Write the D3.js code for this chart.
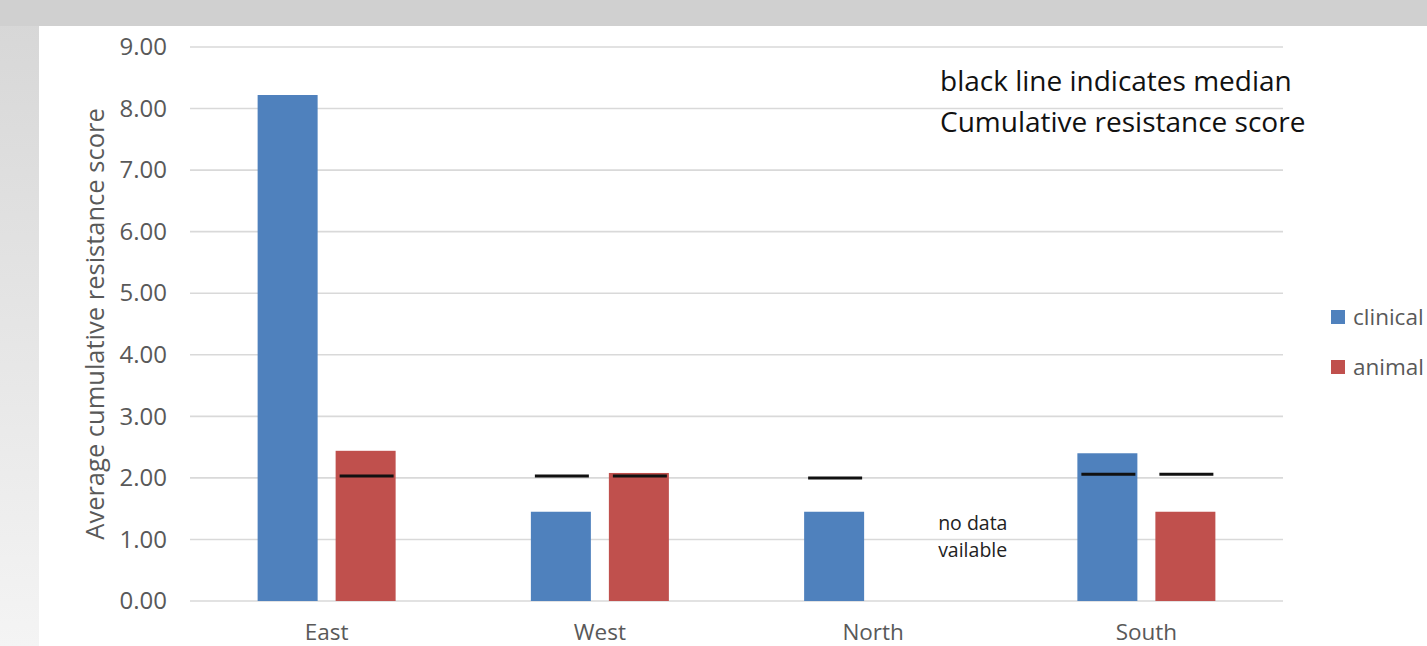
<!DOCTYPE html>
<html>
<head>
<meta charset="utf-8">
<script src="https://cdn.jsdelivr.net/npm/d3@7"></script>
<style>
  html, body { margin: 0; padding: 0; background: #fff; }
  svg { display: block; }
</style>
</head>
<body>
<svg id="chart" width="1427" height="646"></svg>
<script>
// Regions and series
const regions = ["East", "West", "North", "South"];
const seriesNames = ["clinical", "animal"];
const clinical = [8.22, 1.45, 1.45, 2.40];
const animal = [2.44, 2.08, null, 1.45];
// Median cumulative resistance score per region (null = not shown)
const clinicalMedian = [null, 2.03, 2.00, 2.06];
const animalMedian = [2.03, 2.03, null, 2.06];
const yTicks = [0, 1, 2, 3, 4, 5, 6, 7, 8, 9];
const colors = { clinical: "#4f81bd", animal: "#c0504d" };

const svg = d3.select("#chart");
const W = 1427, H = 646;
const font = "'Open Sans', 'Noto Sans', sans-serif";

// Slide-style backdrop: grey top band, shaded left strip, white panel
const defs = svg.append("defs");
const grad = defs.append("linearGradient").attr("id", "side")
  .attr("x1", 0).attr("y1", 0).attr("x2", 0).attr("y2", 1);
grad.append("stop").attr("offset", "0%").attr("stop-color", "#d6d6d6");
grad.append("stop").attr("offset", "100%").attr("stop-color", "#f4f4f4");
svg.append("rect").attr("width", W).attr("height", H).attr("fill", "url(#side)");
svg.append("rect").attr("width", W).attr("height", 26).attr("fill", "#d0d0d0");
svg.append("rect").attr("x", 39).attr("y", 26).attr("width", W - 39).attr("height", H - 26).attr("fill", "#fff");

const plot = { left: 190, right: 1283, top: 47, bottom: 601 };

const x = d3.scaleBand().domain(regions).range([plot.left, plot.right]).padding(0);
const y = d3.scaleLinear().domain([0, 9]).range([plot.bottom, plot.top]);
const barW = 60, barOff = 39;

// Gridlines
svg.append("g").selectAll("line").data(yTicks).join("line")
  .attr("x1", plot.left).attr("x2", plot.right)
  .attr("y1", d => y(d)).attr("y2", d => y(d))
  .attr("stroke", "#d9d9d9").attr("stroke-width", 1.6);

// Y axis tick labels
const yAxis = d3.axisLeft(y).tickValues(yTicks).tickFormat(d3.format(".2f")).tickSize(0).tickPadding(23);
const gy = svg.append("g").attr("transform", `translate(${plot.left},0)`).call(yAxis);
gy.select(".domain").remove();
gy.selectAll("text").attr("font-family", font).attr("font-size", 24).attr("fill", "#595959");

// X axis category labels
const xAxis = d3.axisBottom(x).tickSize(0).tickPadding(0);
const gx = svg.append("g").attr("transform", `translate(0,${plot.bottom})`).call(xAxis);
gx.select(".domain").remove();
gx.selectAll("text").attr("font-family", font).attr("font-size", 22.5).attr("fill", "#595959")
  .attr("y", 39).attr("dy", 0);

// Bars
const series = [
  { name: "clinical", values: clinical, medians: clinicalMedian, dx: -barOff },
  { name: "animal", values: animal, medians: animalMedian, dx: barOff }
];
const barData = [];
const medData = [];
series.forEach(s => {
  regions.forEach((r, i) => {
    const cx = x(r) + x.bandwidth() / 2 + s.dx;
    if (s.values[i] != null) barData.push({ name: s.name, cx, v: s.values[i] });
    if (s.medians[i] != null) medData.push({ cx, v: s.medians[i] });
  });
});
svg.append("g").selectAll("rect").data(barData).join("rect")
  .attr("x", d => d.cx - barW / 2)
  .attr("y", d => y(d.v))
  .attr("width", barW)
  .attr("height", d => y(0) - y(d.v))
  .attr("fill", d => colors[d.name]);

// Median markers
svg.append("g").selectAll("line").data(medData).join("line")
  .attr("x1", d => d.cx - 26).attr("x2", d => d.cx + 28)
  .attr("y1", d => y(d.v)).attr("y2", d => y(d.v))
  .attr("stroke", "#111").attr("stroke-width", 3);

// "no data" note for the missing North animal bar
const ndX = x("North") + x.bandwidth() / 2 + 65;
const noData = svg.append("text")
  .attr("font-family", font).attr("font-size", 19.5).attr("fill", "#222");
noData.append("tspan").attr("x", ndX).attr("y", 530).text("no data");
noData.append("tspan").attr("x", ndX).attr("y", 557).text("vailable");

// Annotation
const note = svg.append("text").attr("font-family", font).attr("font-size", 28).attr("fill", "#111");
note.append("tspan").attr("x", 940).attr("y", 91).text("black line indicates median");
note.append("tspan").attr("x", 940).attr("y", 132).text("Cumulative resistance score");

// Y axis title
svg.append("text")
  .attr("transform", `translate(104,${(105 + 543) / 2}) rotate(-90)`)
  .attr("text-anchor", "middle")
  .attr("font-family", font).attr("font-size", 25.5).attr("fill", "#595959")
  .text("Average cumulative resistance score");

// Legend
const legend = svg.append("g").selectAll("g").data(seriesNames).join("g")
  .attr("transform", (d, i) => `translate(1331,${317 + i * 50})`);
legend.append("rect").attr("x", 0).attr("y", -7).attr("width", 14).attr("height", 14)
  .attr("fill", d => colors[d]);
legend.append("text").attr("x", 22).attr("y", 8)
  .attr("font-family", font).attr("font-size", 22.5).attr("fill", "#595959")
  .text(d => d);
</script>
</body>
</html>
